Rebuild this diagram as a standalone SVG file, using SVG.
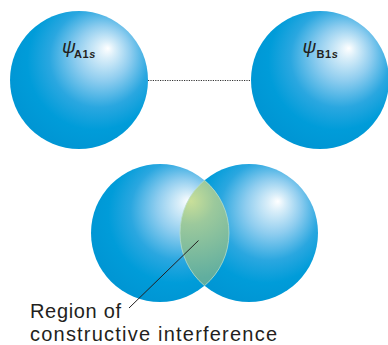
<svg xmlns="http://www.w3.org/2000/svg" width="388" height="345" viewBox="0 0 388 345">
  <style>
    .orb { fill: url(#orbShade); }
    .psi { font-family: "Liberation Sans", "DejaVu Sans", sans-serif; font-style: italic; font-size: 19px; fill: #231f20; }
    .sub { font-family: "Liberation Sans", "DejaVu Sans", sans-serif; font-weight: bold; font-size: 11px; fill: #231f20; letter-spacing: 0.6px; }
    .sub tspan.it { font-style: italic; }
    .caption { font-family: "Liberation Sans", "DejaVu Sans", sans-serif; font-size: 20px; fill: #231f20; }
    .bond { stroke: #333333; stroke-width: 1; stroke-dasharray: 1.2 1.2; fill: none; }
    .leader { stroke: #231f20; stroke-width: 1; fill: none; }
  </style>
  <defs>
    <!-- shaded sphere: soft glint up and to the right of centre -->
    <radialGradient id="orbShade" cx="0.6" cy="0.39" r="0.62" fx="0.71" fy="0.27">
      <stop offset="0" stop-color="#ffffff"/>
      <stop offset="0.1" stop-color="#d9eef9"/>
      <stop offset="0.32" stop-color="#8fcdef"/>
      <stop offset="0.58" stop-color="#2aa7e0"/>
      <stop offset="0.8" stop-color="#009cd9"/>
      <stop offset="1" stop-color="#0096d4"/>
    </radialGradient>
    <radialGradient id="lensShade" gradientUnits="userSpaceOnUse" cx="191" cy="201" r="78">
      <stop offset="0" stop-color="#c9df99"/>
      <stop offset="0.3" stop-color="#9cc99c"/>
      <stop offset="1" stop-color="#60ae9f"/>
    </radialGradient>
  </defs>

  <g id="atomA">
    <circle class="orb" cx="79" cy="80" r="69"/>
    <text class="psi" x="62" y="53">ψ</text>
    <text class="sub" x="74" y="57.5">A1<tspan class="it">s</tspan></text>
  </g>

  <g id="atomB">
    <circle class="orb" cx="320" cy="80" r="69"/>
    <text class="psi" x="302.5" y="53">ψ</text>
    <text class="sub" x="316.5" y="57.5">B1<tspan class="it">s</tspan></text>
  </g>

  <g id="overlap">
    <circle class="orb" cx="249" cy="233" r="69"/>
    <circle class="orb" cx="160" cy="233" r="69"/>
    <!-- lens where both orbitals overlap -->
    <path d="M204.5,180.27 A69,69 0 0 0 204.5,285.73 A69,69 0 0 0 204.5,180.27 Z" fill="url(#lensShade)" stroke="#b9ddc6" stroke-width="0.8"/>
  </g>

  <!-- bond axis between the separated atoms, and the caption's leader -->
  <g id="connectors">
    <line class="bond" x1="148" y1="80.5" x2="251" y2="80.5"/>
    <line class="leader" x1="198.5" y1="240.5" x2="129" y2="308"/>
  </g>

  <g id="label">
    <text class="caption" x="30" y="318" textLength="91" lengthAdjust="spacing">Region of</text>
    <text class="caption" x="30" y="341" textLength="247" lengthAdjust="spacing">constructive interference</text>
  </g>
</svg>
